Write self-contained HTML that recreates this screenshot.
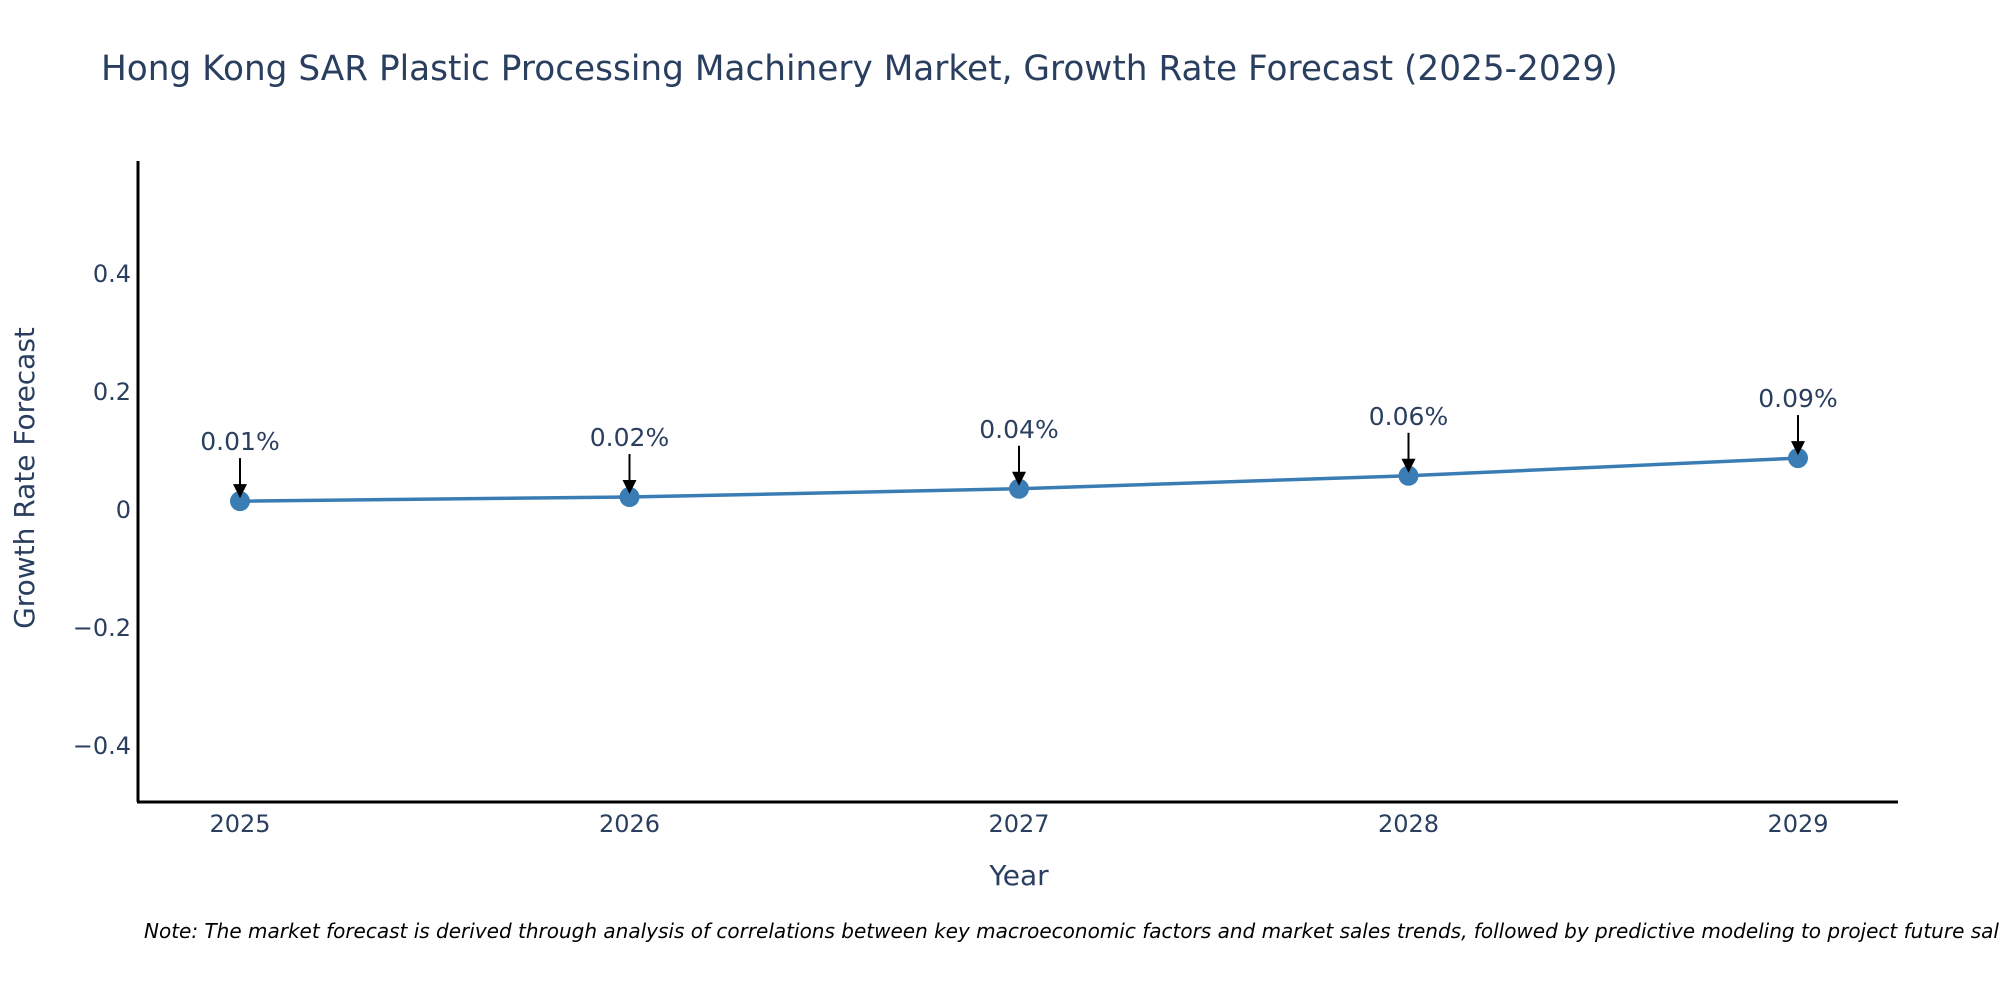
<!DOCTYPE html>
<html><head><meta charset="utf-8"><style>
body{margin:0;background:#fff;}
svg{display:block;font-family:"DejaVu Sans","Liberation Sans",sans-serif;}
</style></head><body>
<svg id="chart" width="2000" height="1000">
<text x="101" y="80" font-size="34.3" fill="#2a3f5f">Hong Kong SAR Plastic Processing Machinery Market, Growth Rate Forecast (2025-2029)</text>
<g id="yticks"></g>
<g id="xticks"></g>
<line x1="138" y1="161" x2="138" y2="802" stroke="#000" stroke-width="3"/>
<line x1="137" y1="802" x2="1898" y2="802" stroke="#000" stroke-width="3"/>
<g id="series"></g>
<text transform="translate(34,478) rotate(-90)" text-anchor="middle" font-size="28" fill="#2a3f5f">Growth Rate Forecast</text>
<text x="1019" y="885" text-anchor="middle" font-size="28" fill="#2a3f5f">Year</text>
<text x="144" y="938" font-size="20" font-style="italic" fill="#000">Note: The market forecast is derived through analysis of correlations between key macroeconomic factors and market sales trends, followed by predictive modeling to project future sales.</text>
</svg>
<script>
const years = ["2025","2026","2027","2028","2029"];
const values = [0.015, 0.022, 0.036, 0.058, 0.088];
const labels = ["0.01%","0.02%","0.04%","0.06%","0.09%"];
const yTicks = [-0.4, -0.2, 0, 0.2, 0.4];
const yTickLabels = ["\u22120.4","\u22120.2","0","0.2","0.4"];

const NS = "http://www.w3.org/2000/svg";
const x = i => 240 + i * 389.5;
const y = v => 510 - v * 590;
function mk(tag, attrs, parent){const e=document.createElementNS(NS,tag);for(const k in attrs)e.setAttribute(k,attrs[k]);parent.appendChild(e);return e;}

const yg = document.getElementById('yticks');
yTicks.forEach((t,i)=>{
  const e = mk('text',{x:131,y:y(t)+8,'text-anchor':'end','font-size':24,fill:'#2a3f5f'},yg);
  e.textContent = yTickLabels[i];
  
  
});
const xg = document.getElementById('xticks');
years.forEach((yr,i)=>{
  const e = mk('text',{x:x(i),y:832,'text-anchor':'middle','font-size':24,fill:'#2a3f5f'},xg);
  e.textContent = yr;
  
  
});
const sg = document.getElementById('series');
const line = mk('polyline',{points:values.map((v,i)=>x(i)+','+y(v)).join(' '),fill:'none',stroke:'#3a7db5','stroke-width':3.5},sg);


values.forEach((v,i)=>{
  const c = mk('circle',{cx:x(i),cy:y(v),r:10,fill:'#3a7db5'},sg);
  
  
  const py = y(v);
  const a = mk('line',{x1:x(i),y1:py-43,x2:x(i),y2:py-14,stroke:'#000','stroke-width':2},sg);
  
  
  const h = mk('polygon',{points:`${x(i)-7},${py-17} ${x(i)+7},${py-17} ${x(i)},${py-3}`,fill:'#000'},sg);
  
  
  const t = mk('text',{x:x(i),y:py-51,'text-anchor':'middle','font-size':25,fill:'#2a3f5f'},sg);
  t.textContent = labels[i];
  
  
});
</script>
</body></html>
